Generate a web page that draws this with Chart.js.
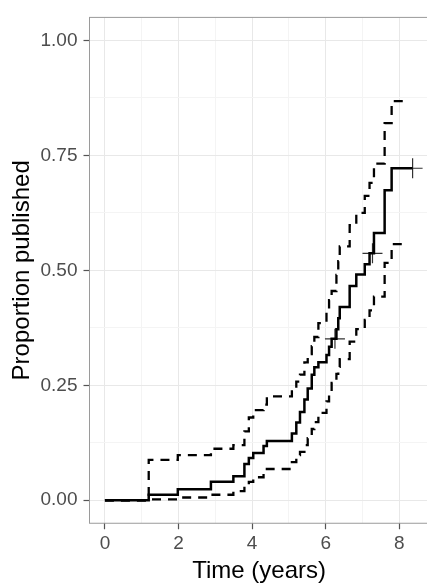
<!DOCTYPE html>
<html><head><meta charset="utf-8">
<script src="https://cdn.jsdelivr.net/npm/chart.js@4.4.1/dist/chart.umd.min.js"></script>
<style>html,body{margin:0;padding:0;background:#fff;overflow:hidden;width:427px;height:583px}
#wrap{width:440px;height:583px}</style>
</head><body><div id="wrap"><canvas id="c" width="440" height="583"></canvas></div>
<script>
// Event times (years) and Kaplan-Meier cumulative proportion published
const times = [0,1.19,1.98,2.88,3.49,3.79,3.91,4.03,4.31,4.40,5.08,5.20,5.30,5.42,5.51,5.62,5.69,5.80,6.02,6.09,6.16,6.29,6.34,6.38,6.65,6.83,7.06,7.19,7.31,7.60,7.79];
const estimate = [0,0.012,0.024,0.040,0.052,0.079,0.092,0.103,0.118,0.129,0.145,0.169,0.192,0.219,0.243,0.273,0.289,0.300,0.316,0.334,0.351,0.372,0.396,0.420,0.466,0.491,0.513,0.537,0.581,0.674,0.722];
const upper = [0,0.088,0.098,0.112,0.120,0.150,0.180,0.196,0.208,0.226,0.242,0.258,0.273,0.300,0.318,0.335,0.355,0.385,0.415,0.435,0.455,0.490,0.520,0.552,0.598,0.625,0.662,0.690,0.732,0.820,0.868];
const lower = [0,0.002,0.006,0.012,0.020,0.032,0.040,0.050,0.058,0.068,0.083,0.098,0.105,0.120,0.135,0.155,0.170,0.190,0.215,0.235,0.255,0.275,0.290,0.307,0.345,0.372,0.392,0.413,0.443,0.516,0.557];
const lastTime = 8.36;   // end of follow-up for the estimate
const ciEnd = 8.2;       // end of the confidence band
const censorTimes = [6.25, 7.27, 8.36];
const censorValues = [0.351, 0.537, 0.722];
const xTicks = [0,1,2,3,4,5,6,7,8];
const yTicks = [0,0.125,0.25,0.375,0.5,0.625,0.75,0.875,1];

function series(ts, vs, endT) {
  const pts = ts.map((t, i) => ({x: t, y: vs[i]}));
  pts.push({x: endT, y: vs[vs.length - 1]});
  return pts;
}

const FONT = "'Liberation Sans', Arial, sans-serif";
const MAJOR = '#e8e8e8', MINOR = '#f4f4f4', TICK = '#555555';

const panelBorder = {
  id: 'panelBorder',
  afterDraw(chart) {
    const {ctx, chartArea: a} = chart;
    ctx.save();
    ctx.strokeStyle = '#9a9a9a';
    ctx.lineWidth = 1;
    ctx.strokeRect(a.left, a.top, a.right - a.left, a.bottom - a.top);
    ctx.restore();
  }
};

new Chart(document.getElementById('c'), {
  type: 'line',
  data: {
    datasets: [
      {data: series(times, upper, ciEnd), stepped: 'before', borderColor: '#000', borderWidth: 2.3, borderDash: [9, 7], pointRadius: 0, fill: false},
      {data: series(times, lower, ciEnd), stepped: 'before', borderColor: '#000', borderWidth: 2.3, borderDash: [9, 7], pointRadius: 0, fill: false},
      {data: series(times, estimate, lastTime), stepped: 'before', borderColor: '#000', borderWidth: 2.5, pointRadius: 0, fill: false},
      {type: 'scatter', data: censorTimes.map((t, i) => ({x: t, y: censorValues[i]})), pointStyle: 'cross', pointRadius: 10, pointBorderWidth: 1.2, pointBorderColor: '#333', borderColor: '#333', showLine: false}
    ]
  },
  options: {
    responsive: false,
    animation: false,
    events: [],
    layout: {padding: {top: 11.75, right: 9.4, left: 0, bottom: 0}},
    plugins: {legend: {display: false}, tooltip: {enabled: false}},
    scales: {
      x: {
        type: 'linear', min: -0.419, max: 8.8,
        afterBuildTicks: s => { s.ticks = xTicks.map(v => ({value: v})); },
        afterFit: s => { s.height = 59.75; },
        grid: {color: c => (c.tick && c.tick.value % 2 === 0) ? MAJOR : MINOR, tickColor: c => (c.tick && c.tick.value % 2 === 0) ? TICK : 'rgba(0,0,0,0)', tickLength: 6, lineWidth: 1, tickWidth: 1.2},
        border: {display: false},
        ticks: {autoSkip: false, maxRotation: 0, padding: 3, color: '#4d4d4d', font: {family: FONT, size: 19},
          callback: v => (v % 2 === 0 ? String(v) : '')},
        title: {display: true, text: 'Time (years)', color: '#000', font: {family: FONT, size: 24, lineHeight: 1}, padding: {top: 0, bottom: 0}}
      },
      y: {
        type: 'linear', min: -0.05, max: 1.05,
        afterBuildTicks: s => { s.ticks = yTicks.map(v => ({value: v})); },
        afterFit: s => { s.width = 89.5; },
        grid: {color: c => (c.tick && Math.abs(c.tick.value * 4 - Math.round(c.tick.value * 4)) < 1e-6) ? MAJOR : MINOR,
               tickColor: c => (c.tick && Math.abs(c.tick.value * 4 - Math.round(c.tick.value * 4)) < 1e-6) ? TICK : 'rgba(0,0,0,0)', tickLength: 6, lineWidth: 1, tickWidth: 1.2},
        border: {display: false},
        ticks: {autoSkip: false, padding: 6, color: '#4d4d4d', font: {family: FONT, size: 19},
          callback: v => (Math.abs(v * 4 - Math.round(v * 4)) < 1e-6 ? v.toFixed(2) : '')},
        title: {display: true, text: 'Proportion published', color: '#000', font: {family: FONT, size: 24, lineHeight: 1}, padding: {top: 10, bottom: 0}}
      }
    }
  },
  plugins: [panelBorder]
});
</script>
</body></html>
